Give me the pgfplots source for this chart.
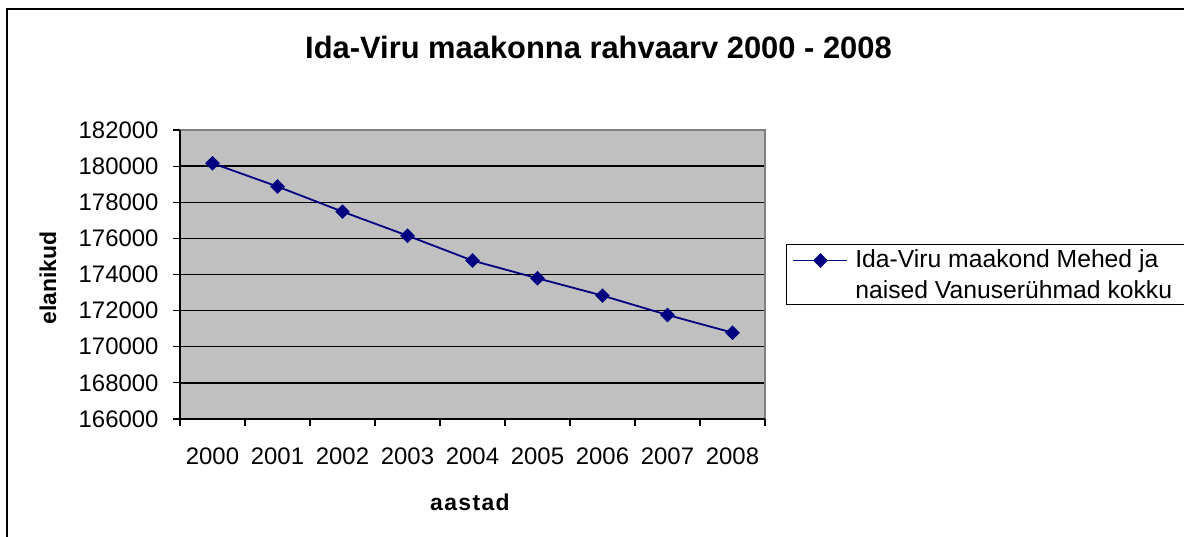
\documentclass[border=0pt]{standalone}
\usepackage{pgfplots}
\pgfplotsset{compat=1.18}
\usepackage{fontspec}
\setmainfont{Liberation Sans}
\definecolor{plotbg}{HTML}{C0C0C0}
\definecolor{navyline}{HTML}{000080}
\definecolor{boxgray}{HTML}{808080}
\begin{document}
\begin{tikzpicture}
\path[use as bounding box] (0bp,0bp) rectangle (1184bp,537bp);
\fill[white] (0bp,0bp) rectangle (1184bp,537bp);
\draw[line width=2.5bp] (7bp,-5bp) -- (7bp,528bp) -- (1190bp,528bp);
\begin{axis}[
  at={(180bp,118bp)}, anchor=south west,
  scale only axis, width=585bp, height=289bp,
  xmin=-0.5, xmax=8.5, ymin=166000, ymax=182000,
  scaled y ticks=false, clip=false,
  axis background/.style={fill=plotbg},
  axis line style={draw=none},
  tick pos=left,
  xtick={-0.5,0.5,...,8.5},
  xticklabels={2000,2001,2002,2003,2004,2005,2006,2007,2008,{}},
  x tick label style={xshift=32.5bp, yshift=-18bp},
  ytick={166000,168000,...,182000},
  yticklabels={166000,168000,170000,172000,174000,176000,178000,180000,182000},
  y tick label style={xshift=-11bp},
  tick align=outside, major tick length=7bp,
  tick style={black, line width=1.2bp},
  tick label style={font=\fontsize{24}{24}\selectfont},
  ymajorgrids, major grid style={black, line width=1.3bp},
  xlabel={\addfontfeature{LetterSpace=6}aastad},
  xlabel style={font=\bfseries\fontsize{23}{23}\selectfont, at={(rel axis cs:0.4957,-0.287)}, anchor=center},
  ylabel={elanikud},
  ylabel style={font=\bfseries\fontsize{23}{23}\selectfont, at={(rel axis cs:-0.2256,0.488)}, anchor=center},
  legend style={at={(1,0.5)}, anchor=west, xshift=21bp, draw=black, line width=1bp,
    fill=white, font=\fontsize{24.8}{31}\selectfont, cells={align=left, anchor=west},
    inner xsep=6bp, inner ysep=3bp},
  legend image code/.code={\draw[mark repeat=2,mark phase=2,#1,yshift=14bp] plot coordinates {(0bp,0bp) (27bp,0bp) (54bp,0bp)}; \path (59bp,14bp);},
]
\addplot[navyline, line width=1.8bp, mark=square*, mark size=4.3bp, mark options={rotate=45, fill=navyline, draw=navyline}] coordinates {
(0,180160) (1,178870) (2,177480) (3,176150) (4,174770) (5,173790) (6,172830) (7,171760) (8,170780)};
\addlegendentry{Ida-Viru maakond Mehed ja\\naised Vanuserühmad kokku\hspace*{25bp}}
\draw[boxgray, line width=2bp] (rel axis cs:0,1) -- (rel axis cs:1,1) -- (rel axis cs:1,0);
\draw[black, line width=1.5bp] (rel axis cs:0,1) -- (rel axis cs:0,0) -- (rel axis cs:1,0);
\end{axis}
\node[font=\bfseries\fontsize{31}{31}\selectfont] at (598.5bp,490bp) {Ida-Viru maakonna rahvaarv 2000 - 2008};
\end{tikzpicture}
\end{document}
